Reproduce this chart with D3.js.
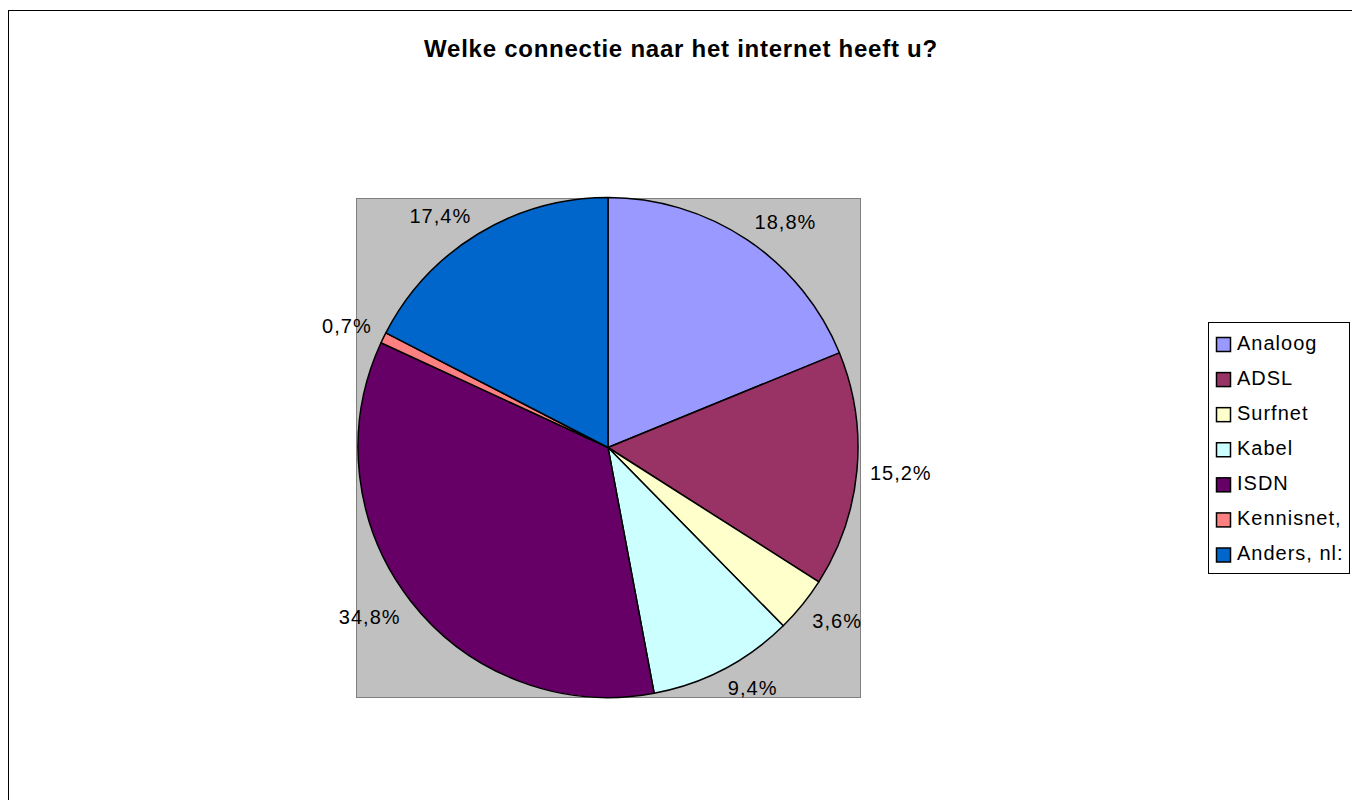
<!DOCTYPE html>
<html><head><meta charset="utf-8">
<script src="https://cdn.jsdelivr.net/npm/d3@7"></script>
<style>
html,body{margin:0;padding:0;background:#fff;}
text{font-family:"Liberation Sans",Arial,sans-serif;}
</style></head>
<body>
<svg id="chart" width="1352" height="800"></svg>
<script>
const title = "Welke connectie naar het internet heeft u?";
const categories = ["Analoog","ADSL","Surfnet","Kabel","ISDN","Kennisnet,","Anders, nl:"];
const values = [18.8, 15.2, 3.6, 9.4, 34.8, 0.7, 17.4];
const labels = ["18,8%","15,2%","3,6%","9,4%","34,8%","0,7%","17,4%"];
const colors = ["#9999FF","#993366","#FFFFCC","#CCFFFF","#660066","#FF8080","#0066CC"];

const svg = d3.select("#chart");
// chart area border
svg.append("rect").attr("x",8.5).attr("y",10.5).attr("width",1400).attr("height",900)
  .attr("fill","#fff").attr("stroke","#000").attr("stroke-width",1);

svg.append("text").attr("x",681).attr("y",57).attr("text-anchor","middle")
  .attr("font-size",24).attr("font-weight","bold").attr("letter-spacing","0.75px").text(title);

// plot area
const pa = {x:356, y:198, w:504, h:499};
svg.append("rect").attr("x",pa.x+0.5).attr("y",pa.y+0.5).attr("width",pa.w).attr("height",pa.h)
  .attr("fill","#C0C0C0").attr("stroke","#808080").attr("stroke-width",1);

const cx = 608, cy = 447.5, r = 250;
const pie = d3.pie().sort(null).value(d=>d)(values);
const arc = d3.arc().innerRadius(0).outerRadius(r);
const g = svg.append("g").attr("transform",`translate(${cx},${cy})`);
g.selectAll("path").data(pie).enter().append("path")
  .attr("d",arc).attr("fill",(d,i)=>colors[i]).attr("stroke","#000").attr("stroke-width",1.5)
  .attr("stroke-linejoin","round");

// labels: nearest box corner sits on the mid-angle ray just outside the pie
const lr = r + 13, capH = 14.5;
const clamp = v => Math.max(-1, Math.min(1, v));
pie.forEach((d,i)=>{
  const a = (d.startAngle + d.endAngle)/2;
  const s = Math.sin(a), c = -Math.cos(a);
  const t = g.append("text").attr("font-size",20).attr("letter-spacing","1px").text(labels[i]);
  const w = t.node().getComputedTextLength();
  const x = lr*s + clamp(2*s)*w/2 - w/2;
  const yc = lr*c + clamp(2*c)*capH/2;
  t.attr("x",x).attr("y",yc + capH/2);
});

// legend
const lg = svg.append("g");
lg.append("rect").attr("x",1208.5).attr("y",322.5).attr("width",141).attr("height",251)
  .attr("fill","#fff").attr("stroke","#000").attr("stroke-width",1);
const ly = d3.scalePoint().domain(categories).range([344.5, 555]);
categories.forEach((cat,i)=>{
  lg.append("rect").attr("x",1216.5).attr("y",ly(cat)-7).attr("width",14).attr("height",14)
    .attr("fill",colors[i]).attr("stroke","#000").attr("stroke-width",1.5);
  lg.append("text").attr("x",1237).attr("y",ly(cat)+5).attr("font-size",20)
    .attr("letter-spacing","1px").attr("xml:space","preserve").text(cat);
});
</script>
</body></html>
